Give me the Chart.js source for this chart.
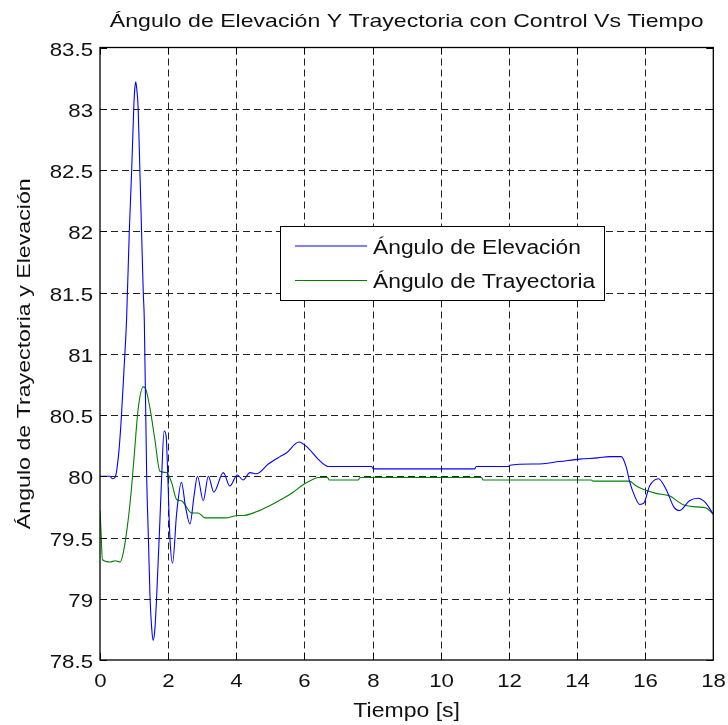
<!DOCTYPE html>
<html>
<head>
<meta charset="utf-8">
<script src="https://cdn.jsdelivr.net/npm/chart.js@4.4.0/dist/chart.umd.min.js"></script>
<style>
  html, body { margin: 0; padding: 0; background: #fff; }
  canvas { display: block; }
</style>
</head>
<body>
<canvas id="chart" width="728" height="725"></canvas>
<script>
// data
const titleText = "Ángulo de Elevación Y Trayectoria con Control Vs Tiempo";
const xLabel = "Tiempo [s]";
const yLabel = "Ángulo de Trayectoria y Elevación";
const seriesNames = ["Ángulo de Elevación", "Ángulo de Trayectoria"];
const xTicks = [0, 2, 4, 6, 8, 10, 12, 14, 16, 18];
const yTicks = [78.5, 79, 79.5, 80, 80.5, 81, 81.5, 82, 82.5, 83, 83.5];

const elevT = [0, 0.29, 0.36, 0.44, 0.54, 0.62, 0.70, 0.78, 0.86, 0.93, 0.99, 1.02, 1.05, 1.08, 1.12, 1.17, 1.22, 1.27, 1.30,
  1.37, 1.42, 1.47, 1.52, 1.56, 1.61, 1.66, 1.76, 1.81, 1.88, 1.94, 1.99, 2.05, 2.13, 2.25, 2.39, 2.51, 2.64, 2.76,
  2.86, 3.03, 3.18, 3.34, 3.62, 3.81, 4.03, 4.2, 4.4, 4.59, 4.94, 5.28, 5.47, 5.84, 6.11, 6.4, 6.7,
  7.97, 8.03, 11.0, 11.04, 12.0, 12.02, 12.8, 13.49, 14.08, 14.61, 14.96, 15.3, 15.45, 15.54, 15.69,
  15.84, 15.96, 16.13, 16.39, 16.62, 16.84, 17.01, 17.3, 17.55, 17.75, 18.0];
const elevV = [80.0, 80.0, 79.98, 79.99, 80.16, 80.45, 80.85, 81.28, 82.0, 82.5, 83.0, 83.16, 83.22, 83.16, 83.0, 82.5, 82.0, 81.5, 81.28,
  80.0, 79.5, 79.0, 78.75, 78.66, 78.75, 79.0, 79.65, 80.0, 80.37, 80.33, 80.0, 79.51, 79.29, 79.7, 79.95, 79.75, 79.61, 79.84,
  80.0, 79.8, 80.0, 79.87, 80.03, 79.92, 80.01, 79.97, 80.03, 80.02, 80.1, 80.16, 80.19, 80.28, 80.23, 80.14, 80.08,
  80.08, 80.06, 80.06, 80.08, 80.08, 80.09, 80.1, 80.12, 80.14, 80.15, 80.16, 80.16, 80.07, 79.96, 79.84,
  79.77, 79.78, 79.92, 79.98, 79.89, 79.75, 79.72, 79.8, 79.82, 79.79, 79.69];

const trayT = [0, 0.03, 0.07, 0.3, 0.45, 0.59, 0.68, 0.83, 0.93, 1.01, 1.12, 1.27, 1.33, 1.47, 1.61, 1.76,
  1.95, 2.1, 2.25, 2.39, 2.69, 2.88, 3.08, 3.37, 3.67, 4.06, 4.2, 4.59, 4.98, 5.38, 5.67, 5.96, 6.21, 6.4,
  6.68, 6.73, 7.58, 7.63, 11.2, 11.24, 14.42, 14.47, 15.54, 15.74, 15.98, 16.32, 16.71, 17.1, 17.5, 17.79, 18.0];
const trayV = [79.72, 79.55, 79.32, 79.3, 79.31, 79.3, 79.37, 79.65, 79.92, 80.19, 80.55, 80.73, 80.72, 80.55, 80.3, 80.04,
  80.03, 79.95, 79.81, 79.8, 79.7, 79.7, 79.66, 79.66, 79.66, 79.68, 79.68, 79.71, 79.76, 79.82, 79.87, 79.93, 79.97, 79.99,
  79.99, 79.97, 79.97, 79.99, 79.99, 79.97, 79.97, 79.96, 79.96, 79.92, 79.89, 79.86, 79.84, 79.77, 79.75, 79.74, 79.69];

const FONT = '"Liberation Sans", Arial, sans-serif';

function toPoints(ts, vs) {
  return ts.map((t, i) => ({ x: t, y: vs[i] }));
}

// text in the picture is wider than plain Arial, so stretch along the baseline
function stretchedText(ctx, text, x, y, opts) {
  ctx.save();
  ctx.translate(x, y);
  if (opts.angle) ctx.rotate(opts.angle);
  ctx.scale(opts.stretch || 1, 1);
  ctx.font = opts.size + 'px ' + FONT;
  ctx.fillStyle = '#111';
  ctx.textAlign = opts.align || 'center';
  ctx.textBaseline = 'alphabetic';
  ctx.fillText(text, 0, 0);
  ctx.restore();
}

const matlabFrame = {
  id: 'matlabFrame',
  beforeDraw(chart) {
    const ctx = chart.ctx;
    ctx.save();
    ctx.fillStyle = '#fff';
    ctx.fillRect(0, 0, chart.width, chart.height);
    ctx.restore();
  },
  beforeDatasetsDraw(chart) {
    const { ctx, chartArea: a, scales: { x, y } } = chart;
    ctx.save();
    ctx.strokeStyle = '#222';
    ctx.lineWidth = 1;
    ctx.setLineDash([7, 4]);
    xTicks.slice(1, -1).forEach(t => {
      const px = Math.round(x.getPixelForValue(t)) + 0.5;
      ctx.beginPath(); ctx.moveTo(px, a.top); ctx.lineTo(px, a.bottom); ctx.stroke();
    });
    yTicks.slice(1, -1).forEach(v => {
      const py = Math.round(y.getPixelForValue(v)) + 0.5;
      ctx.beginPath(); ctx.moveTo(a.left, py); ctx.lineTo(a.right, py); ctx.stroke();
    });
    ctx.restore();
  },
  afterDatasetsDraw(chart) {
    const { ctx, chartArea: a, scales: { x, y } } = chart;
    ctx.save();
    ctx.strokeStyle = '#000';
    ctx.lineWidth = 1.3;
    ctx.strokeRect(a.left, a.top, a.right - a.left, a.bottom - a.top);
    ctx.lineWidth = 1;
    const tl = 7;
    xTicks.forEach(t => {
      const px = Math.round(x.getPixelForValue(t)) + 0.5;
      ctx.beginPath();
      ctx.moveTo(px, a.bottom); ctx.lineTo(px, a.bottom - tl);
      ctx.moveTo(px, a.top); ctx.lineTo(px, a.top + tl);
      ctx.stroke();
      stretchedText(ctx, String(t), px, a.bottom + 27, { size: 19, stretch: 1.17 });
    });
    yTicks.forEach(v => {
      const py = Math.round(y.getPixelForValue(v)) + 0.5;
      ctx.beginPath();
      ctx.moveTo(a.left, py); ctx.lineTo(a.left + tl, py);
      ctx.moveTo(a.right, py); ctx.lineTo(a.right - tl, py);
      ctx.stroke();
      stretchedText(ctx, String(v), a.left - 7, py + 7, { size: 19, stretch: 1.17, align: 'right' });
    });

    const cx = (a.left + a.right) / 2;
    stretchedText(ctx, titleText, cx, 27, { size: 19, stretch: 1.215 });
    stretchedText(ctx, xLabel, cx, 717, { size: 19.5, stretch: 1.18 });
    stretchedText(ctx, yLabel, 30, (a.top + a.bottom) / 2, { size: 19, stretch: 1.22, angle: -Math.PI / 2 });

    // legend box
    const lx = 280.5, ly = 226.5, lw = 324, lh = 74;
    ctx.fillStyle = '#fff';
    ctx.fillRect(lx, ly, lw, lh);
    ctx.strokeStyle = '#000';
    ctx.lineWidth = 1;
    ctx.strokeRect(lx, ly, lw, lh);
    const rows = [246, 280.5];
    chart.data.datasets.forEach((ds, i) => {
      ctx.strokeStyle = ds.borderColor;
      ctx.lineWidth = 1.2;
      ctx.beginPath(); ctx.moveTo(295, rows[i]); ctx.lineTo(367, rows[i]); ctx.stroke();
      stretchedText(ctx, ds.label, 373, rows[i] + 7.5, { size: 20, stretch: 1.14, align: 'left' });
    });
    ctx.restore();
  }
};

new Chart(document.getElementById('chart'), {
  type: 'line',
  data: {
    datasets: [
      { label: seriesNames[0], data: toPoints(elevT, elevV), borderColor: '#0000ff', borderWidth: 1.1,
        pointRadius: 0, cubicInterpolationMode: 'monotone', fill: false },
      { label: seriesNames[1], data: toPoints(trayT, trayV), borderColor: '#008000', borderWidth: 1.1,
        pointRadius: 0, cubicInterpolationMode: 'monotone', fill: false }
    ]
  },
  options: {
    responsive: false,
    animation: false,
    devicePixelRatio: 1,
    layout: { padding: { top: 47.5, right: 14.7, left: 0, bottom: 0 } },
    plugins: { legend: { display: false }, title: { display: false }, tooltip: { enabled: false } },
    scales: {
      x: {
        type: 'linear', min: 0, max: 18,
        ticks: { display: false, stepSize: 2 },
        grid: { display: false }, border: { display: false },
        afterFit(scale) { scale.height = 65; }
      },
      y: {
        type: 'linear', min: 78.5, max: 83.5,
        ticks: { display: false, stepSize: 0.5 },
        grid: { display: false }, border: { display: false },
        afterFit(scale) { scale.width = 100; }
      }
    }
  },
  plugins: [matlabFrame]
});
</script>
</body>
</html>
